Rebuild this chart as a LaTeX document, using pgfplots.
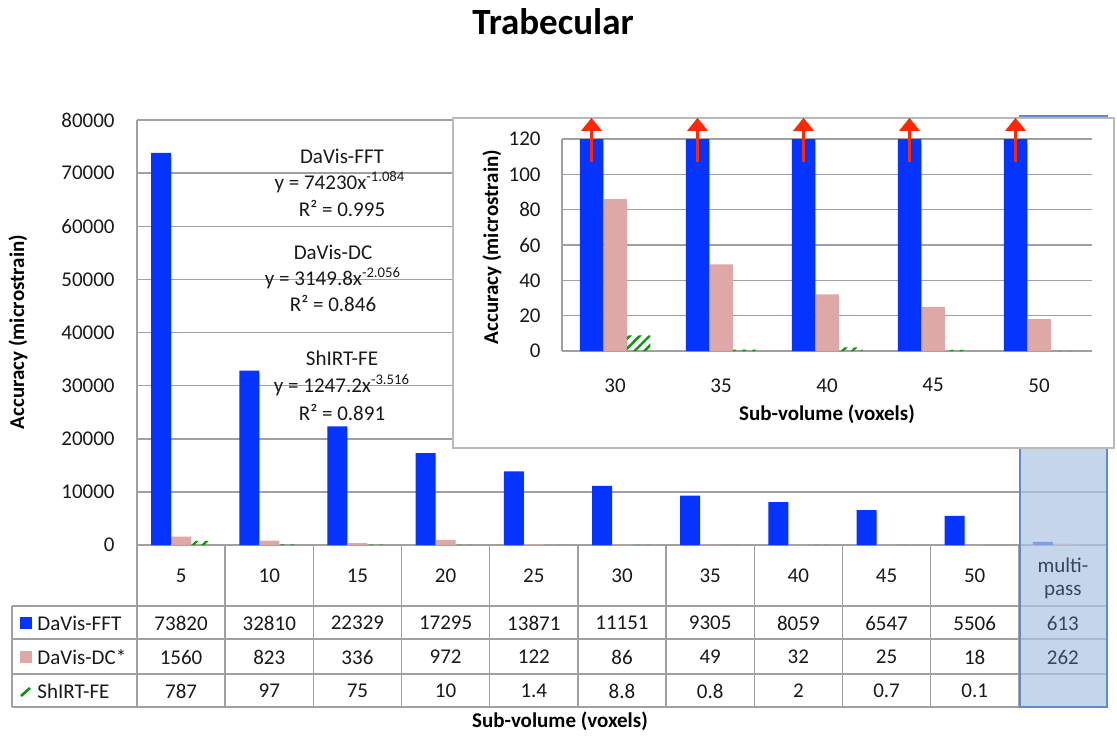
\documentclass[border=0pt]{standalone}
\usepackage{pgfplots}
\pgfplotsset{compat=1.18}
\usepackage{pgfplotstable}
\usepackage{fontspec}
\setmainfont{Carlito}
\usetikzlibrary{patterns.meta,arrows.meta}

\definecolor{fftblue}{RGB}{5,51,255}
\definecolor{dcpink}{RGB}{221,168,165}
\definecolor{shgreen}{RGB}{10,150,10}
\definecolor{gridgray}{RGB}{160,160,160}
\definecolor{hlfill}{RGB}{175,198,226}
\definecolor{hlline}{RGB}{95,140,200}
\definecolor{txt}{RGB}{25,25,25}
\definecolor{hltxt}{RGB}{55,70,92}
\definecolor{arrowred}{RGB}{255,40,0}

\newcommand\tf{\fontsize{10.5}{12.6}\selectfont}
\newcommand\bff{\fontsize{10.5}{12.6}\selectfont\bfseries}

\pgfplotstableread{
x fft dc sh
0 73820 1560 787
1 32810 823 97
2 22329 336 75
3 17295 972 10
4 13871 122 1.4
5 11151 86 8.8
6 9305 49 0.8
7 8059 32 2
8 6547 25 0.7
9 5506 18 0.1
10 613 262 nan
}\maindata

\pgfplotstableread{
x fft dc sh
0 11151 86 8.8
1 9305 49 0.8
2 8059 32 2
3 6547 25 0.7
4 5506 18 0.1
}\insetdata

\begin{document}
\begin{tikzpicture}
\begin{scope}[x=0.5pt,y=-0.5pt]
\useasboundingbox (0,0) rectangle (1117,738);
\end{scope}

% ---------- main axis ----------
\begin{axis}[
  at={(68.5pt,-272.5pt)}, anchor=south west,
  scale only axis, width=485pt, height=212.5pt,
  xmin=-0.5, xmax=10.5, ymin=0, ymax=80000,
  ytick={0,10000,...,80000}, xtick=\empty,
  scaled y ticks=false,
  /pgf/number format/.cd, fixed, 1000 sep={}, assume math mode=true, /pgfplots/.cd,
  ymajorgrids, grid style={gridgray, line width=0.75pt},
  axis x line*=bottom, axis y line*=left,
  axis line style={gridgray, line width=0.75pt, -},
  major tick length=0pt,
  yticklabel style={font=\tf, text=txt, anchor=east, inner sep=0pt, xshift=-11pt},
]
\addplot[ybar, bar width=10pt, bar shift=-10pt, fill=fftblue, draw=none] table[x=x,y=fft]{\maindata};
\addplot[ybar, bar width=10pt, bar shift=0pt, fill=dcpink, draw=none] table[x=x,y=dc]{\maindata};
\addplot[ybar, bar width=10pt, bar shift=10pt, pattern={Lines[angle=45,distance=3.5pt,line width=1.2pt]}, pattern color=shgreen, draw=none] table[x=x,y=sh]{\maindata};
\end{axis}

\begin{scope}[x=0.5pt,y=-0.5pt]
% table lines
\foreach \k in {0,...,11}{
  \draw[gridgray, line width=0.75pt] ({137+88.18*\k},545) -- ({137+88.18*\k},707);
}
\draw[gridgray, line width=0.75pt] (12,606) -- (12,707);
\foreach \yy in {606,639,674,707}{
  \draw[gridgray, line width=0.75pt] (12,\yy) -- (1107,\yy);
}
% category labels and values
\foreach \lab [count=\i from 0] in {5,10,15,20,25,30,35,40,45,50}{
  \node[font=\tf, text=txt] at ({137+88.18*(\i+0.5)},576) {\lab};
}
\foreach \v [count=\i from 0] in {73820,32810,22329,17295,13871,11151,9305,8059,6547,5506}{
  \node[font=\tf, text=txt] at ({137+88.18*(\i+0.5)},623) {\v};
}
\foreach \v [count=\i from 0] in {1560,823,336,972,122,86,49,32,25,18}{
  \node[font=\tf, text=txt] at ({137+88.18*(\i+0.5)},657) {\v};
}
\foreach \v [count=\i from 0] in {787,97,75,10,1.4,8.8,0.8,2,0.7,0.1}{
  \node[font=\tf, text=txt] at ({137+88.18*(\i+0.5)},691) {\v};
}
% legend keys
\fill[fftblue] (20,617) rectangle (32,629);
\fill[dcpink] (20,651) rectangle (32,663);
\draw[shgreen, line width=1.3pt] (21,696) -- (30,688);
\node[font=\tf, text=txt, anchor=west, inner sep=0pt] at (37,623) {DaVis-FFT};
\node[font=\tf, text=txt, anchor=west, inner sep=0pt] at (37,657) {DaVis-DC*};
\node[font=\tf, text=txt, anchor=west, inner sep=0pt] at (37,691) {ShIRT-FE};

% highlight of multi-pass column
\fill[hlfill, opacity=0.72] (1020,116) rectangle (1107,707);
\draw[hlline, line width=0.9pt] (1020,116) rectangle (1107,707);
\node[font=\tf, text=hltxt, align=center] at ({137+88.18*10.5},578) {multi-\\[-1pt]pass};
\node[font=\tf, text=hltxt] at ({137+88.18*10.5},623) {613};
\node[font=\tf, text=hltxt] at ({137+88.18*10.5},657) {262};

% fit annotations
\node[font=\tf, text=txt] at (342,156) {DaVis-FFT};
\node[font=\tf, text=txt] at (340,182) {y = 74230x\textsuperscript{-1.084}};
\node[font=\tf, text=txt] at (342,208) {R² = 0.995};
\node[font=\tf, text=txt] at (333,252) {DaVis-DC};
\node[font=\tf, text=txt] at (333,278) {y = 3149.8x\textsuperscript{-2.056}};
\node[font=\tf, text=txt] at (333,303) {R² = 0.846};
\node[font=\tf, text=txt] at (342,358) {ShIRT-FE};
\node[font=\tf, text=txt] at (342,385) {y = 1247.2x\textsuperscript{-3.516}};
\node[font=\tf, text=txt] at (342,412) {R² = 0.891};

% titles and labels
\node[font=\fontsize{18.5}{22}\selectfont\bfseries, text=black] at (553,22) {Trabecular};
\node[font=\bff, text=black, rotate=90] at (18,332) {Accuracy (microstrain)};
\node[font=\bff, text=black] at (560,721) {Sub-volume (voxels)};

% inset box
\draw[fill=white, draw=gray!55, line width=0.8pt] (453,118) rectangle (1114,448);
\node[font=\bff, text=black, rotate=90] at (492,247) {Accuracy (microstrain)};
\node[font=\bff, text=black] at (827,414) {Sub-volume (voxels)};
\end{scope}

% ---------- inset axis ----------
\begin{axis}[
  at={(281pt,-175.5pt)}, anchor=south west,
  scale only axis, width=265pt, height=106pt,
  xmin=-0.5, xmax=4.5, ymin=0, ymax=120,
  ytick={0,20,...,120}, xtick={0,...,4}, xticklabels={30,35,40,45,50},
  /pgf/number format/.cd, assume math mode=true, /pgfplots/.cd,
  ymajorgrids, grid style={gridgray, line width=0.75pt},
  axis x line*=bottom, axis y line*=left,
  axis line style={gridgray, line width=0.75pt, -},
  major tick length=0pt,
  yticklabel style={font=\tf, text=txt, anchor=east, inner sep=0pt, xshift=-10.5pt},
  xticklabel style={font=\tf, text=txt, anchor=north, inner sep=0pt, yshift=-13.5pt},
  clip mode=individual,
]
\addplot[ybar, bar width=11.75pt, bar shift=-11.75pt, fill=fftblue, draw=none] table[x=x,y=fft]{\insetdata};
\addplot[ybar, bar width=11.75pt, bar shift=0pt, fill=dcpink, draw=none] table[x=x,y=dc]{\insetdata};
\addplot[ybar, bar width=11.75pt, bar shift=11.75pt, pattern={Lines[angle=45,distance=3.5pt,line width=1.2pt]}, pattern color=shgreen, draw=none] table[x=x,y=sh]{\insetdata};
\pgfplotsinvokeforeach{0,...,4}{
  \draw[arrowred, line width=1.8pt, -{Triangle[width=10pt,length=6.5pt]}]
    ([xshift=-11.75pt]axis cs:#1,107) -- ([xshift=-11.75pt]axis cs:#1,132);
}
\end{axis}
\end{tikzpicture}
\end{document}
